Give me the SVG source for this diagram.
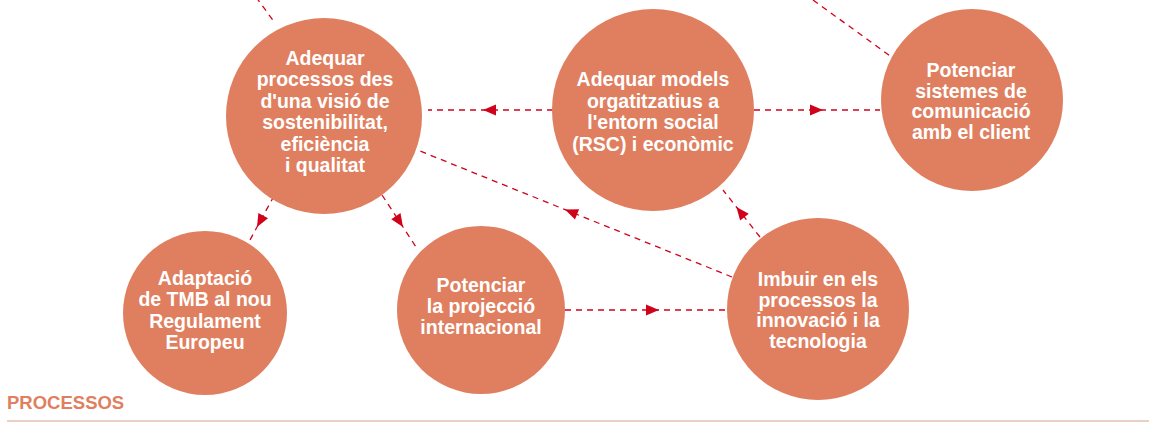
<svg xmlns="http://www.w3.org/2000/svg" width="1149" height="422" viewBox="0 0 1149 422">
<style>
.node circle{fill:#E07F60;}
.node text{fill:#fff;font-family:"Liberation Sans",Arial,sans-serif;font-weight:bold;font-size:19.5px;text-anchor:middle;}
.conn path{fill:none;stroke:#D0021B;stroke-width:1.3;stroke-dasharray:6 5;}
.arr{marker-mid:url(#ah);}
.title{fill:#E07F60;font-family:"Liberation Sans",Arial,sans-serif;font-weight:bold;font-size:18.5px;}
</style>
<defs>
<marker id="ah" markerUnits="userSpaceOnUse" markerWidth="14" markerHeight="12" refX="13" refY="5.5" orient="auto" overflow="visible">
<path d="M0,0 L13,5.5 L0,11 z" fill="#D0021B"/>
</marker>
</defs>
<g id="connectors" class="conn">
<path d="M256,-3 L275,23"/>
<path d="M813,0 L893,58"/>
<path class="arr" d="M553,110 L483,110 L428,110"/>
<path class="arr" d="M754,110 L823,110 L880,110"/>
<path class="arr" d="M565,310 L659,310 L725,310"/>
<path class="arr" d="M274,196 L257,227 L250,240"/>
<path class="arr" d="M382,195 L403,227 L418,250"/>
<path class="arr" d="M760,237 L736.4,207 L723,190"/>
<path class="arr" d="M732,277 L565,209.6 L420,151"/>
</g>
<g id="n1" class="node">
<circle cx="324" cy="116" r="98"/>
<text x="325" y="65">Adequar</text>
<text x="325" y="86">processos des</text>
<text x="325" y="108">d'una visió de</text>
<text x="325" y="129">sostenibilitat,</text>
<text x="325" y="151">eficiència</text>
<text x="325" y="172">i qualitat</text>
</g>
<g id="n2" class="node">
<circle cx="653" cy="110" r="101"/>
<text x="653" y="86">Adequar models</text>
<text x="653" y="108">orgatitzatius a</text>
<text x="653" y="129">l'entorn social</text>
<text x="653" y="151">(RSC) i econòmic</text>
</g>
<g id="n3" class="node">
<circle cx="972" cy="100" r="91"/>
<text x="971" y="77">Potenciar</text>
<text x="971" y="98">sistemes de</text>
<text x="971" y="118">comunicació</text>
<text x="971" y="139">amb el client</text>
</g>
<g id="n4" class="node">
<circle cx="205" cy="313" r="82"/>
<text x="205" y="285">Adaptació</text>
<text x="205" y="306">de TMB al nou</text>
<text x="205" y="328">Regulament</text>
<text x="205" y="349">Europeu</text>
</g>
<g id="n5" class="node">
<circle cx="481" cy="310" r="84"/>
<text x="481" y="292">Potenciar</text>
<text x="481" y="313">la projecció</text>
<text x="481" y="334">internacional</text>
</g>
<g id="n6" class="node">
<circle cx="818" cy="309" r="91"/>
<text x="818" y="286">Imbuir en els</text>
<text x="818" y="307">processos la</text>
<text x="818" y="327">innovació i la</text>
<text x="818" y="348">tecnologia</text>
</g>
<text class="title" x="7" y="409">PROCESSOS</text>
<line x1="7" y1="421" x2="1149" y2="421" stroke="#D9A088" stroke-width="1"/>
</svg>
